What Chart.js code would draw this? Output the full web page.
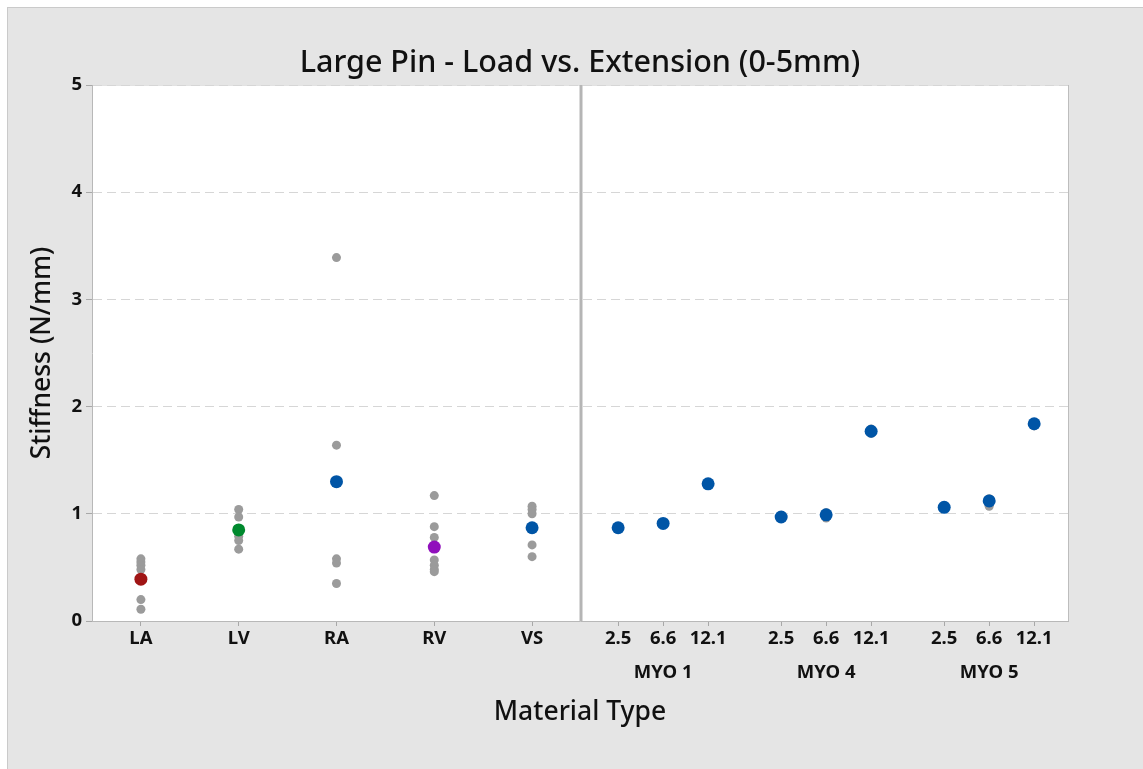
<!DOCTYPE html>
<html>
<head>
<meta charset="utf-8">
<title>Large Pin - Load vs. Extension (0-5mm)</title>
<script src="https://cdn.jsdelivr.net/npm/chart.js@4.4.1/dist/chart.umd.min.js"></script>
<style>
  html, body { margin: 0; padding: 0; background: #ffffff; }
  #frame {
    position: absolute; left: 7px; top: 7px;
    width: 1136px; height: 762px;
    box-sizing: border-box;
    border-left: 1px solid #cacaca; border-top: 1px solid #cacaca;
    background: #e5e5e5;
  }
  #wrap { position: absolute; left: 0; top: 0; width: 1135px; height: 761px; }
</style>
</head>
<body>
<div id="frame"><div id="wrap"><canvas id="chart"></canvas></div></div>
<script>
// tissue samples (left panel)
const tissueTypes = ["LA", "LV", "RA", "RV", "VS"];
const laValues = [0.58, 0.55, 0.52, 0.48, 0.20, 0.11];
const lvValues = [1.04, 0.97, 0.79, 0.75, 0.67];
const raValues = [3.39, 1.64, 0.58, 0.54, 0.35];
const rvValues = [1.17, 0.88, 0.78, 0.57, 0.52, 0.48, 0.46];
const vsValues = [1.07, 1.04, 1.00, 0.71, 0.60];
const tissueMeans = [0.39, 0.85, 1.30, 0.69, 0.87];
const tissueColors = ["#a01515", "#00892e", "#0055a6", "#9010bc", "#0055a6"];

// myocardium phantoms (right panel)
const myoGroups = ["MYO 1", "MYO 4", "MYO 5"];
const concentrations = ["2.5", "6.6", "12.1"];
const myo1Values = [[0.87, 0.88], [0.90, 0.92], [1.28, 1.29]];
const myo4Values = [[0.96, 0.97], [0.96, 1.01], [1.75, 1.79]];
const myo5Values = [[1.06, 1.07], [1.07, 1.14], [1.82, 1.85]];
const myo1Means = [0.87, 0.91, 1.28];
const myo4Means = [0.97, 0.99, 1.77];
const myo5Means = [1.06, 1.12, 1.84];

const yTicks = [0, 1, 2, 3, 4, 5];

const GRAY = "#9b9b9b";
const BLUE = "#0055a6";
const FONT = "'Noto Sans'";

// x layout: tissues sit at 0..4, the myo panel starts at DIVIDER
const DIVIDER = 4.5;
const X_MAX = 9.48;
const MYO_START = DIVIDER + 0.38;
const GROUP_STEP = 1.667;
const SUB_STEP = 0.46;

const tissueRaw = [laValues, lvValues, raValues, rvValues, vsValues];
const myoRaw = [myo1Values, myo4Values, myo5Values];
const myoMeans = [myo1Means, myo4Means, myo5Means];

const tickPos = [];
const tickText = [];
tissueTypes.forEach((name, i) => { tickPos.push(i); tickText.push(name); });
myoGroups.forEach((g, gi) => {
  concentrations.forEach((c, ci) => {
    tickPos.push(MYO_START + gi * GROUP_STEP + ci * SUB_STEP);
    tickText.push(ci === 1 ? [c, "", g] : c);
  });
});

const grayPts = [];
const datasets = [];
tissueRaw.forEach((vals, i) => vals.forEach(v => grayPts.push({ x: i, y: v })));
myoRaw.forEach((grp, gi) => grp.forEach((vals, ci) => {
  const x = MYO_START + gi * GROUP_STEP + ci * SUB_STEP;
  vals.forEach(v => grayPts.push({ x: x, y: v }));
}));

tissueMeans.forEach((m, i) => {
  datasets.push({
    data: [{ x: i, y: m }],
    backgroundColor: tissueColors[i],
    pointRadius: 6.5,
    borderWidth: 0,
    order: 0
  });
});
const myoMeanPts = [];
myoMeans.forEach((grp, gi) => grp.forEach((m, ci) => {
  myoMeanPts.push({ x: MYO_START + gi * GROUP_STEP + ci * SUB_STEP, y: m });
}));
datasets.push({ data: myoMeanPts, backgroundColor: BLUE, pointRadius: 6.5, borderWidth: 0, order: 0 });
datasets.push({ data: grayPts, backgroundColor: GRAY, pointRadius: 4.5, borderWidth: 0, order: 1 });

const panelPlugin = {
  id: "panel",
  beforeDraw(chart) {
    const { ctx, chartArea: a } = chart;
    ctx.save();
    ctx.fillStyle = "#ffffff";
    ctx.fillRect(a.left, a.top, a.right - a.left, a.bottom - a.top);
    ctx.strokeStyle = "#e2e2e2";
    ctx.lineWidth = 1;
    ctx.beginPath();
    ctx.moveTo(a.left, a.top + 0.5);
    ctx.lineTo(a.right, a.top + 0.5);
    ctx.stroke();
    ctx.restore();
  },
  beforeDatasetsDraw(chart) {
    const { ctx, chartArea: a, scales } = chart;
    const xd = Math.round(scales.x.getPixelForValue(DIVIDER));
    ctx.save();
    ctx.strokeStyle = "#b5b5b5";
    ctx.lineWidth = 3;
    ctx.beginPath();
    ctx.moveTo(xd, a.top);
    ctx.lineTo(xd, a.bottom);
    ctx.stroke();
    ctx.strokeStyle = "#bdbdbd";
    ctx.lineWidth = 1;
    ctx.beginPath();
    ctx.moveTo(a.right + 0.5, a.top);
    ctx.lineTo(a.right + 0.5, a.bottom);
    ctx.stroke();
    ctx.restore();
  },
  afterDraw(chart) {
    const { ctx, chartArea: a } = chart;
    ctx.save();
    ctx.fillStyle = "#111111";
    ctx.font = "500 30.5px " + FONT;
    ctx.textAlign = "center";
    ctx.textBaseline = "middle";
    ctx.fillText("Large Pin - Load vs. Extension (0-5mm)", (a.left + a.right) / 2, 55);
    ctx.restore();
  }
};

new Chart(document.getElementById("chart"), {
  type: "scatter",
  data: { datasets: datasets },
  options: {
    responsive: true,
    maintainAspectRatio: false,
    animation: false,
    layout: { padding: { top: 77, right: 75, left: 0, bottom: 0 } },
    plugins: { legend: { display: false }, tooltip: { enabled: false } },
    scales: {
      x: {
        type: "linear",
        min: -0.5,
        max: X_MAX,
        afterBuildTicks(scale) { scale.ticks = tickPos.map(v => ({ value: v })); },
        afterFit(scale) { scale.height = 148; },
        ticks: {
          autoSkip: false,
          maxRotation: 0,
          padding: 4,
          color: "#111111",
          font: { family: FONT, size: 18.5, weight: "bold", lineHeight: 0.92 },
          callback: (value, index) => tickText[index]
        },
        grid: { drawOnChartArea: false, drawTicks: true, tickLength: 5, tickColor: "#a8a8a8" },
        border: { display: true, color: "#b8b8b8" },
        title: {
          display: true,
          text: "Material Type",
          color: "#111111",
          font: { family: FONT, size: 26.5, weight: "500" },
          padding: { top: 0, bottom: 41 }
        }
      },
      y: {
        min: 0,
        max: 5,
        afterBuildTicks(scale) { scale.ticks = yTicks.map(v => ({ value: v })); },
        afterFit(scale) { scale.width = 84; },
        ticks: {
          padding: 4,
          color: "#111111",
          font: { family: FONT, size: 18.5, weight: "bold" }
        },
        grid: {
          color: "#d6d6d6",
          tickBorderDash: [],
          tickLength: 6,
          tickColor: "#a8a8a8"
        },
        border: { display: true, color: "#b8b8b8", dash: [9, 5] },
        title: {
          display: true,
          text: "Stiffness (N/mm)",
          color: "#111111",
          font: { family: FONT, size: 26.5, weight: "500" },
          padding: { top: 19, bottom: 0 }
        }
      }
    }
  },
  plugins: [panelPlugin]
});
</script>
</body>
</html>
